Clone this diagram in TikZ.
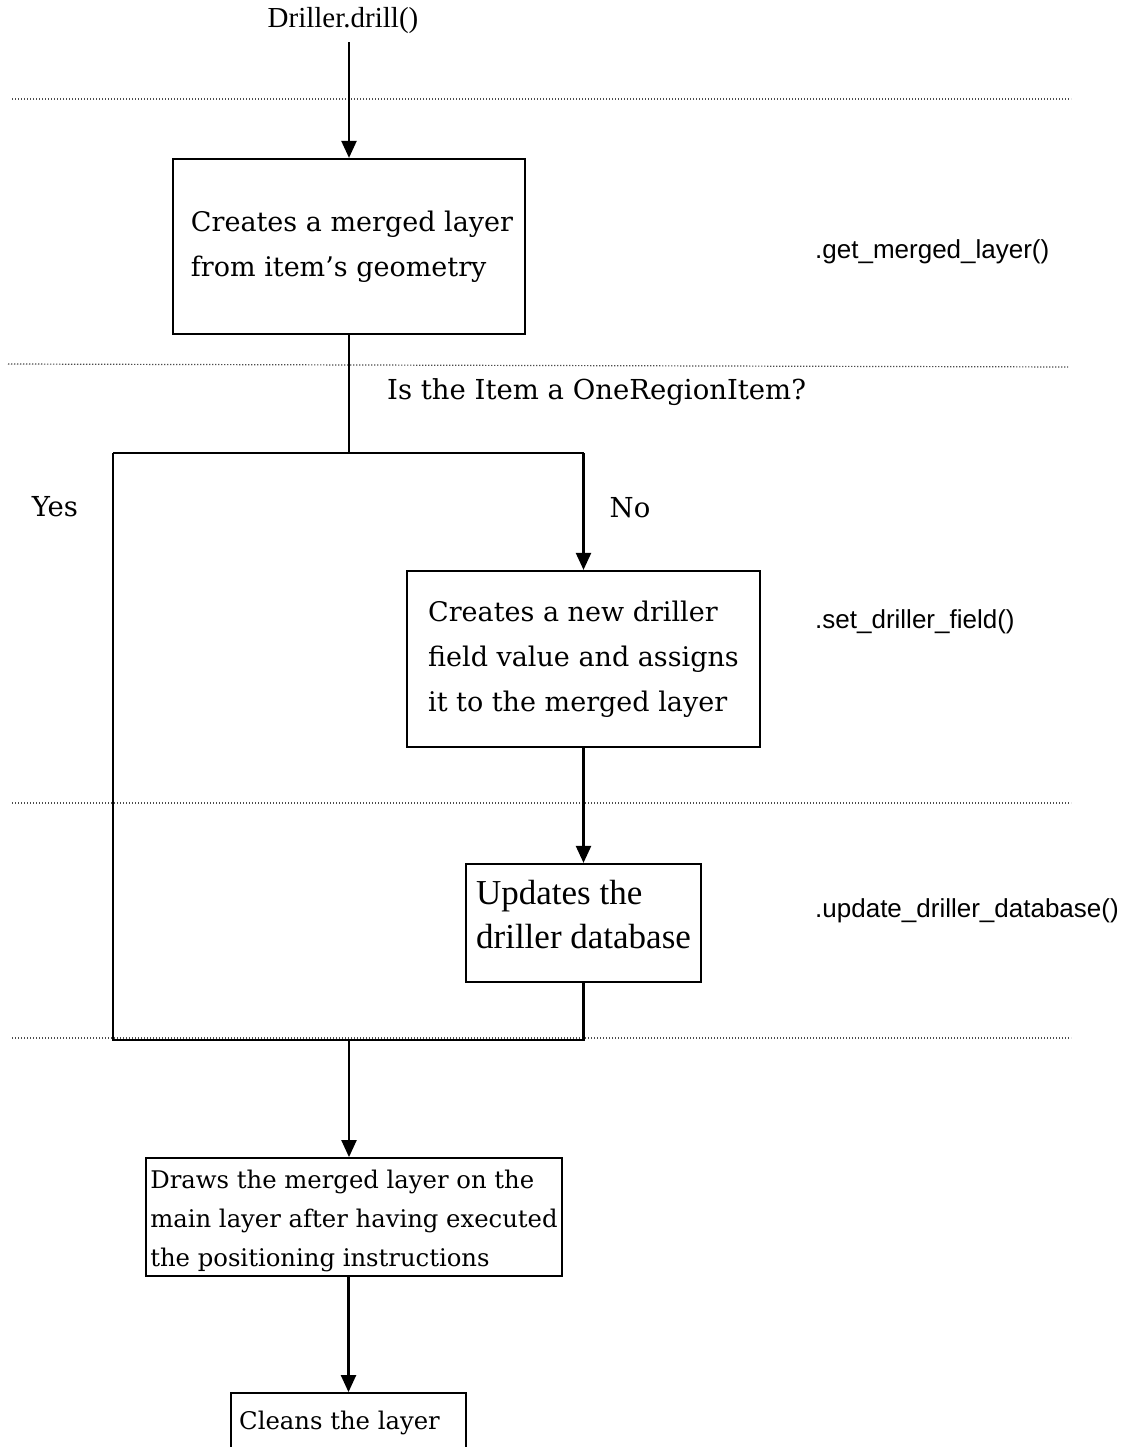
\documentclass[tikz,border=0pt]{standalone}
\usepackage{fontspec}
\setmainfont{Liberation Serif}
\newfontfamily\wideserif{DejaVu Serif}
\newfontfamily\codefont{Liberation Sans}
\usetikzlibrary{arrows.meta}

\begin{document}
\begin{tikzpicture}[x=1pt,y=-1pt,
  box/.style={draw,line width=2.2pt,align=left,inner sep=0pt,font=\wideserif\fontsize{27}{45}\selectfont},
  arr/.style={line width=2.2pt,-{Triangle[length=17pt,width=15pt]}},
  link/.style={line width=2.2pt},
  sep/.style={draw=black!70,line width=1.2pt,dash pattern=on 1.4pt off 1.6pt},
  codelabel/.style={anchor=west,inner sep=0pt,font=\codefont\fontsize{26}{30}\selectfont},
  plain/.style={inner sep=0pt,font=\wideserif\fontsize{27.5}{32}\selectfont}]

\useasboundingbox (0,0) rectangle (1130,1447);
\clip (0,0) rectangle (1130,1447);

% phase separators
\draw[sep] (12,99) -- (1071,99);
\draw[sep] (8,364) -- (1068,367);
\draw[sep] (12,803) -- (1071,803);
\draw[sep] (12,1038) -- (1071,1038);

% entry point
\node[inner sep=0pt,font=\fontsize{29}{32}\selectfont] (start) at (343,21) {Driller.drill()};

% process boxes
\node[box,minimum width=352pt,minimum height=175pt] (merged) at (349,246.5)
  {\hspace*{6pt}Creates a merged layer\\\hspace*{6pt}from item’s geometry};
\node[box,minimum width=353pt,minimum height=176pt] (field) at (583.5,659)
  {Creates a new driller\\field value and assigns\\it to the merged layer};
\node[box,font=\fontsize{35}{44}\selectfont,minimum width=235pt,minimum height=118pt] (db) at (583.5,923)
  {Updates the\\driller database\\[-26pt]\mbox{}};
\node[box,line width=1.8pt,font=\wideserif\fontsize{24.3}{39}\selectfont,minimum width=416pt,minimum height=118pt] (draw) at (354,1217)
  {\rule{0pt}{27pt}Draws the merged layer on the\\main layer after having executed\\the positioning instructions};
\node[box,line width=1.8pt,font=\wideserif\fontsize{24.3}{39}\selectfont,minimum width=235pt,minimum height=60pt] (clean) at (348.5,1423)
  {Cleans the layer\hspace*{18pt}};

% method names
\node[codelabel] (m1) at (815,252) {.get\_merged\_layer()};
\node[codelabel] (m2) at (815,622) {.set\_driller\_field()};
\node[codelabel] (m3) at (815,911) {.update\_driller\_database()};

% decision texts
\node[plain,anchor=west] (question) at (387,392) {Is the Item a OneRegionItem?};
\node[plain] (yes) at (55,507) {Yes};
\node[plain] (no) at (630,508) {No};

% branch corners
\coordinate (yesTop) at (113,453);
\coordinate (noTop) at (583.5,453);
\coordinate (yesBot) at (113,1040);
\coordinate (noBot) at (583.5,1040);
\coordinate (merge) at (349,1040);

% connectors
\draw[arr] (start.south -| merged.north) ++(0,8) -- (merged.north);
\draw[link] (merged.south) -- (merged.south |- yesTop);
\draw[link] (yesTop) -- (noTop);
\draw[arr] (noTop) -- (field.north);
\draw[arr] (field.south) -- (db.north);
\draw[link] (db.south) -- (noBot) -- (yesBot) -- (yesTop);
\draw[arr] (merge) -- (merge |- draw.north);
\draw[arr] (draw.south -| clean.north) -- (clean.north);
\end{tikzpicture}
\end{document}
